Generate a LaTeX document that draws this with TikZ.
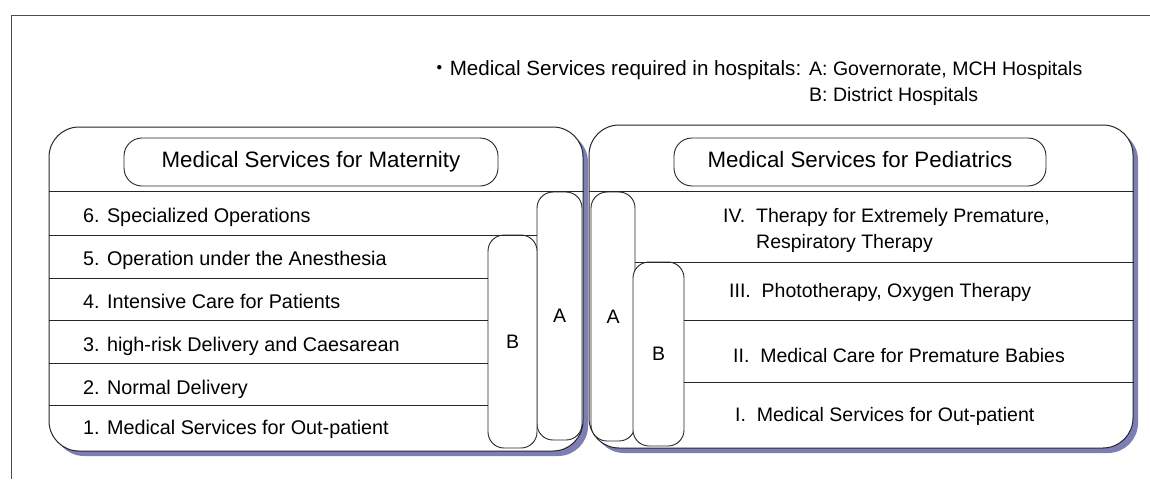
\documentclass[tikz,border=0pt]{standalone}
\usepackage{fontspec}
\setmainfont{Liberation Sans}
\newfontfamily\cjk{Noto Sans CJK JP}
\usetikzlibrary{shadows}
\definecolor{shadowblue}{RGB}{124,126,180}
\tikzset{
  panel/.style={draw=black!85, line width=1pt, fill=white, rounded corners=30pt, inner sep=0pt,
    drop shadow={shadow xshift=5pt, shadow yshift=-5pt, fill=shadowblue, opacity=1}},
  headbox/.style={draw=black!85, line width=0.9pt, fill=white, rounded corners=18pt,
    inner sep=0pt, font=\fontsize{22.3}{26}\selectfont},
  levelbox/.style={draw=black!85, line width=0.9pt, fill=white, rounded corners=16pt,
    inner sep=0pt, font=\fontsize{19.5}{23}\selectfont},
  rowtext/.style={anchor=base west, inner sep=0pt, font=\fontsize{19.5}{23}\selectfont},
  rowline/.style={draw=black!85, line width=0.9pt}
}
\begin{document}
\begin{tikzpicture}[x=1pt,y=-1pt]
\useasboundingbox (0,0) rectangle (1150,479);
\draw[black!70, line width=0.8pt] (1150,15) -- (11,15) -- (11,479);
% legend
\node[rowtext, font=\fontsize{20.6}{24}\selectfont] (legend) at (429,75)
  {{\cjk ・}Medical Services required in hospitals:};
\node[rowtext] (legA) at (809,75) {A: Governorate, MCH Hospitals};
\node[rowtext] (legB) at (809,101) {B: District Hospitals};
% maternity
\node[panel, minimum width=534pt, minimum height=324pt] (mat) at (316,289) {};
\node[headbox, minimum width=374pt, minimum height=48pt] (mathead) at (311,162)
  {\rule[-5pt]{0pt}{21pt}Medical Services for Maternity};
\draw[rowline] (mat.west |- 0,191) -- (mat.east |- 0,191);
\node[levelbox, minimum width=45pt, minimum height=248pt] (matA) at (559.5,316) {A};
\node[levelbox, minimum width=49pt, minimum height=213pt] (matB) at (512.5,341.5) {B};
\draw[rowline] (mat.west |- 0,235) -- (matA.west |- 0,235);
\foreach \y in {278,320,363,405}
  \draw[rowline] (mat.west |- 0,\y) -- (matB.west |- 0,\y);
\foreach \n/\y/\t in {6/222/{6. Specialized Operations},5/265/{5. Operation under the Anesthesia},
    4/308/{4. Intensive Care for Patients},3/351/{3. high-risk Delivery and Caesarean},
    2/394/{2. Normal Delivery},1/434/{1. Medical Services for Out-patient}}
  \node[rowtext, font=\fontsize{19.8}{23}\selectfont] (mat\n) at (83,\y) {\t};
% pediatrics
\node[panel, minimum width=544pt, minimum height=323pt] (ped) at (861,286.5) {};
\node[headbox, minimum width=372pt, minimum height=48pt] (pedhead) at (860,162)
  {\rule[-5pt]{0pt}{21pt}Medical Services for Pediatrics};
\draw[rowline] (ped.west |- 0,191) -- (ped.east |- 0,191);
\node[levelbox, minimum width=44pt, minimum height=249pt] (pedA) at (613,316.5) {A};
\node[levelbox, minimum width=51pt, minimum height=184pt] (pedB) at (658.5,354) {B};
\draw[rowline] (pedA.east |- 0,262) -- (ped.east |- 0,262);
\foreach \y in {320,382}
  \draw[rowline] (pedB.east |- 0,\y) -- (ped.east |- 0,\y);
\node[rowtext] (ped4) at (723,222) {IV.\ \ Therapy for Extremely Premature,};
\node[rowtext] (ped4b) at (756,248) {Respiratory Therapy};
\node[rowtext] (ped3) at (729,297) {III.\ \ Phototherapy, Oxygen Therapy};
\node[rowtext] (ped2) at (733,362) {II.\ \ Medical Care for Premature Babies};
\node[rowtext] (ped1) at (735,421) {I.\ \ Medical Services for Out-patient};
\end{tikzpicture}
\end{document}
